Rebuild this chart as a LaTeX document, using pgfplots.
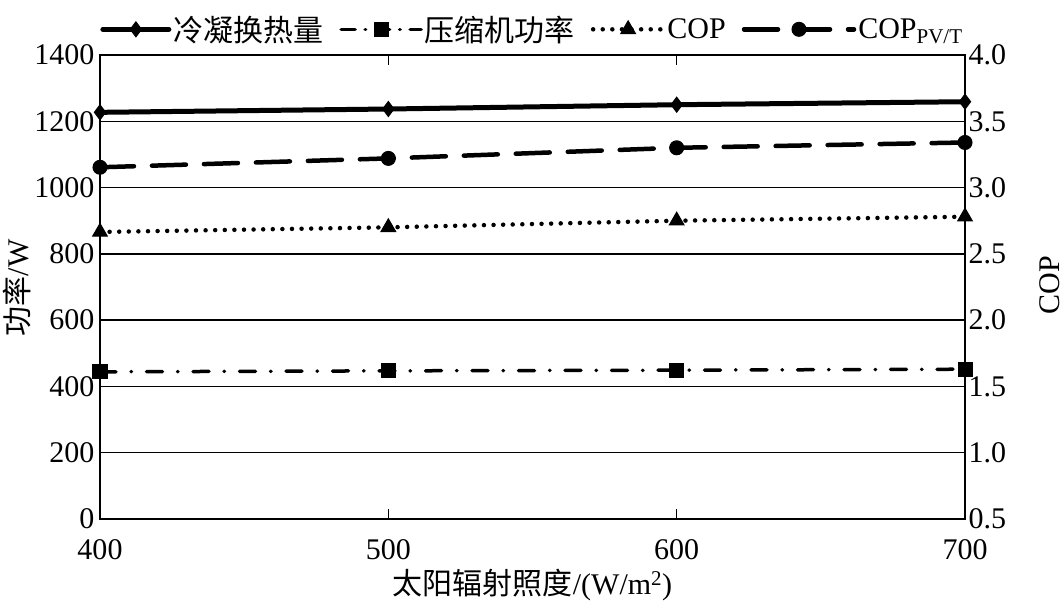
\documentclass[border=0pt]{standalone}
\usepackage{fontspec}
\setmainfont{Liberation Serif}
\newfontfamily\cjk{Noto Sans CJK SC}
\usepackage{pgfplots}
\pgfplotsset{compat=1.18}
\begin{document}
\begin{tikzpicture}[font=\fontsize{30}{36}\selectfont]
\useasboundingbox (0,0) rectangle (1064pt,605pt);
\pgfplotsset{
  base/.style={
    width=865pt, height=464pt, scale only axis,
    at={(100pt,86pt)}, anchor=south west,
    xmin=400, xmax=700, xtick={400,500,600,700},
    /pgf/number format/assume math mode=true,
    /pgf/number format/1000 sep={},
  },
  limg/.style={legend image code/.code={\draw[mark repeat=2,mark phase=2] plot coordinates {(0pt,0pt)(#1*0.5,0pt)(#1,0pt)};}},
  s1/.style={black, line width=5pt, line cap=round, mark=diamond*, mark size=7.5pt, mark options={solid, line width=1pt}},
  s2/.style={black, line width=3.5pt, line cap=round, dash pattern=on 16pt off 15pt on 0.5pt off 15pt, mark=square*, mark size=7pt, mark options={solid, line width=1pt}},
  s3/.style={black, line width=4.5pt, line cap=round, dash pattern=on 0pt off 9.6pt, mark=triangle*, mark size=8.5pt, mark options={solid, line width=1pt}},
  s4/.style={black, line width=4.5pt, line cap=round, dash pattern=on 34pt off 18pt, mark=*, mark size=7pt, mark options={solid, line width=1pt}},
}
\begin{axis}[base,
  ymin=0, ymax=1400, ytick={0,200,...,1400},
  ymajorgrids, grid style={black, line width=1.3pt},
  axis line style={line width=1.5pt},
  ytick style={draw=none},
  xtick style={black, line width=1.3pt},
  tick align=inside, major tick length=10pt,
  xticklabel style={yshift=-17pt},
  yticklabel style={xshift=-2pt},
  xlabel={{\cjk 太阳辐射照度}/(W/m\textsuperscript{2})},
  xlabel style={at={(axis description cs:0.5,-0.142)}, anchor=center},
  ylabel={{\cjk 功率}/W},
  ylabel style={at={(axis description cs:-0.0965,0.498)}, anchor=center},
]
\addplot[s1] coordinates {(400,1227) (500,1237) (600,1250) (700,1259)};
\addplot[s2] coordinates {(400,444) (500,447) (600,449) (700,452)};
\end{axis}
\begin{axis}[base,
  axis y line*=right, axis x line=none,
  ymin=0.5, ymax=4, ytick={0.5,1,...,4},
  yticklabel style={/pgf/number format/.cd, fixed, fixed zerofill, precision=1},
  ytick style={draw=none},
  axis line style={line width=1.5pt},
  ylabel={COP},
  ylabel style={at={(axis description cs:1.098,0.504)}, anchor=center},
  legend columns=4,
  legend style={draw=none, fill=none, at={(0.5,1)}, anchor=south, xshift=0pt, yshift=8pt,
    /tikz/every even column/.append style={column sep=14pt},
    font=\fontsize{30}{36}\selectfont},
]
\addlegendimage{s1, limg={66pt}}
\addlegendentry{{\cjk 冷凝换热量}}
\addlegendimage{s2, dash pattern=on 14pt off 10pt on 0.5pt off 10pt, limg={80pt}}
\addlegendentry{{\cjk 压缩机功率}}
\addplot[s3, limg={70pt}] coordinates {(400,2.665) (500,2.70) (600,2.75) (700,2.78)};
\addlegendentry{COP}
\addplot[s4, limg={110pt}] coordinates {(400,3.153) (500,3.22) (600,3.30) (700,3.34)};
\addlegendentry{COP\textsubscript{PV/T}}
\end{axis}
\end{tikzpicture}
\end{document}
